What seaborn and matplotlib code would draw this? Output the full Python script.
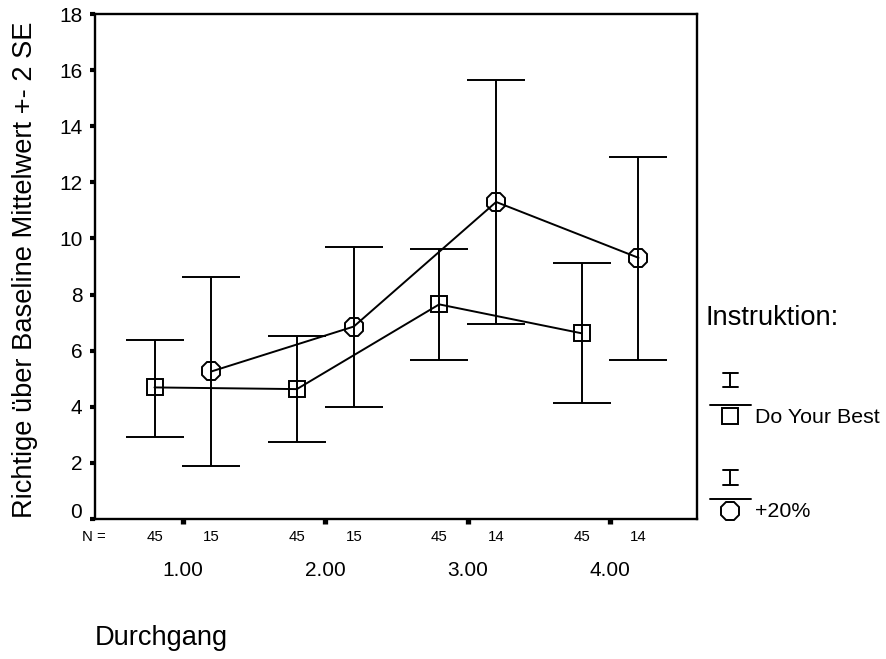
import numpy as np
import pandas as pd
import matplotlib
matplotlib.use("Agg")
import matplotlib.pyplot as plt
import matplotlib.transforms as mtransforms
from matplotlib.lines import Line2D
import seaborn as sns

# ---- data ----
categories = ["1.00", "2.00", "3.00", "4.00"]
groups = ["Do Your Best", "+20%"]
dyb_mean = [4.69, 4.63, 7.65, 6.62]
dyb_low = [2.94, 2.73, 5.68, 4.13]
dyb_high = [6.39, 6.52, 9.61, 9.13]
p20_mean = [5.26, 6.86, 11.30, 9.31]
p20_low = [1.89, 4.00, 6.95, 5.68]
p20_high = [8.63, 9.68, 15.64, 12.90]
dyb_n = [45, 45, 45, 45]
p20_n = [15, 15, 14, 14]
y_ticks = [0, 2, 4, 6, 8, 10, 12, 14, 16, 18]

W, H = 886, 659
sns.set_theme(style="white")
plt.rcParams["font.family"] = ["Liberation Sans", "DejaVu Sans"]
plt.rcParams.update({"text.color": "black", "axes.labelcolor": "black",
                     "xtick.color": "black", "ytick.color": "black",
                     "axes.edgecolor": "black"})

fig = plt.figure(figsize=(W / 100, H / 100), dpi=100)
ax = fig.add_axes([95 / W, 1 - 519 / H, 602 / W, 505 / H])

offsets = {"Do Your Best": -0.2, "+20%": 0.2}
markers = {"Do Your Best": "s", "+20%": "8"}
msizes = {"Do Your Best": 11.5, "+20%": 14.4}

rows = []
for g, means, lows, highs, ns in [("Do Your Best", dyb_mean, dyb_low, dyb_high, dyb_n),
                                  ("+20%", p20_mean, p20_low, p20_high, p20_n)]:
    for i, c in enumerate(categories):
        rows.append(dict(group=g, cat=c, xpos=i + 1 + offsets[g], mean=means[i],
                         low=lows[i], high=highs[i], n=ns[i]))
df = pd.DataFrame(rows)

for g in groups:
    sub = df[df["group"] == g]
    ax.errorbar(sub["xpos"], sub["mean"],
                yerr=[sub["mean"] - sub["low"], sub["high"] - sub["mean"]],
                fmt="none", ecolor="black", elinewidth=1.4, capsize=20.9, capthick=1.4,
                zorder=2)
    sns.lineplot(data=sub, x="xpos", y="mean", ax=ax, color="black", lw=1.4,
                 marker=markers[g], markersize=msizes[g], mfc="none", mec="black",
                 mew=1.4, errorbar=None, legend=False, zorder=3)

ax.set_xlim(0.382, 4.611)
ax.set_ylim(0, 18)
ax.set_yticks(y_ticks)
ax.set_yticklabels([str(t) for t in y_ticks])
ax.set_xticks(range(1, len(categories) + 1))
ax.set_xticklabels(categories)
ax.set_xlabel("")
ax.set_ylabel("Richtige über Baseline Mittelwert +- 2 SE", fontsize=19.6, color="black")
ax.yaxis.set_label_coords(-0.0947, 0.493)

for s in ax.spines.values():
    s.set_visible(True)
    s.set_color("black")
    s.set_linewidth(1.7)

ax.tick_params(axis="y", direction="out", length=3.6, width=3.0, color="black",
               labelcolor="black", labelsize=15, pad=5.5, left=True)
ax.tick_params(axis="x", direction="out", length=3.6, width=3.8, color="black",
               labelcolor="black", labelsize=15, pad=27, bottom=True)
ax.grid(False)

# shift the "0" label upward like the original
for lbl in ax.get_yticklabels():
    if lbl.get_text() == "0":
        lbl.set_transform(lbl.get_transform() +
                          mtransforms.ScaledTranslation(0, 9 / 100, fig.dpi_scale_trans))

# N row
ax.annotate("N =", xy=(0.375, 0), xycoords=("data", "axes fraction"),
            xytext=(0, -13), textcoords="offset points", ha="center", va="center",
            fontsize=10.8, color="black", annotation_clip=False)
for _, r in df.iterrows():
    ax.annotate(str(r["n"]), xy=(r["xpos"], 0), xycoords=("data", "axes fraction"),
                xytext=(0, -13), textcoords="offset points", ha="center", va="center",
                fontsize=10.8, color="black", annotation_clip=False)

fig.text(95 / W, 1 - 645 / H, "Durchgang", fontsize=19.6, ha="left", va="baseline",
         color="black")

# ---- legend (manual, SPSS style) ----
def P(x, y):
    return (x / W, 1 - y / H)

fig.text(*P(705, 325), "Instruktion:", fontsize=19.6, ha="left", va="baseline",
         color="black")

def legend_entry(y_top, y_bot, y_line, y_mark, marker, ms, label, y_base):
    # error-bar glyph
    fig.add_artist(Line2D([730 / W, 730 / W], [1 - y_top / H, 1 - y_bot / H],
                          transform=fig.transFigure, color="black", lw=1.4))
    for yy in (y_top, y_bot):
        fig.add_artist(Line2D([723 / W, 738 / W], [1 - yy / H, 1 - yy / H],
                              transform=fig.transFigure, color="black", lw=1.4))
    fig.add_artist(Line2D([710 / W, 751 / W], [1 - y_line / H, 1 - y_line / H],
                          transform=fig.transFigure, color="black", lw=1.4))
    fig.add_artist(Line2D([730 / W], [1 - y_mark / H], transform=fig.transFigure,
                          marker=marker, markersize=ms, mfc="none", mec="black",
                          mew=1.4, lw=0))
    fig.text(*P(755, y_base), label, fontsize=15.4, ha="left", va="baseline",
             color="black")

legend_entry(373, 387, 405, 416, markers["Do Your Best"], msizes["Do Your Best"],
             "Do Your Best", 423)
legend_entry(470, 485, 499, 511, markers["+20%"], msizes["+20%"], "+20%", 517)

fig.savefig("out.png", dpi=100)
